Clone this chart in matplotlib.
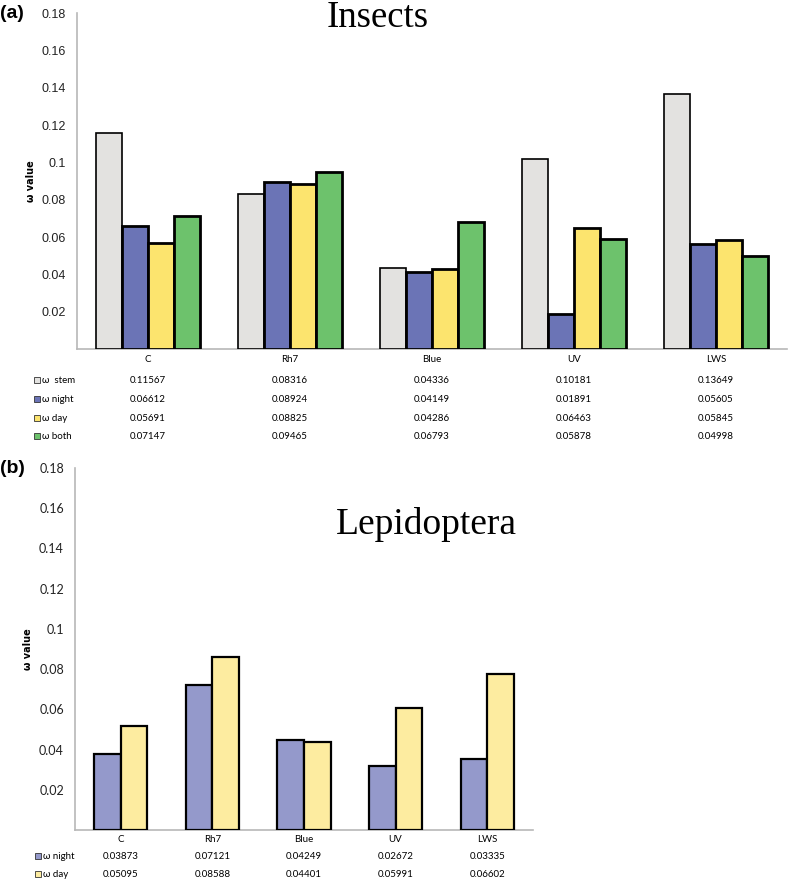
from matplotlib import pyplot as plt
from matplotlib.transforms import blended_transform_factory
from matplotlib.patches import Rectangle
import numpy as np

genes = ['C', 'Rh7', 'Blue', 'UV', 'LWS']

# panel (a) - insects
insStem = [0.11567, 0.08316, 0.04336, 0.10181, 0.13649]
insNight = [0.06612, 0.08924, 0.04149, 0.01891, 0.05605]
insDay = [0.05691, 0.08825, 0.04286, 0.06463, 0.05845]
insBoth = [0.07147, 0.09465, 0.06793, 0.05878, 0.04998]
insNames = ['ω  stem', 'ω night', 'ω day', 'ω both']

# panel (b) - lepidoptera, bar heights
lepNight = [0.038, 0.072, 0.045, 0.032, 0.0353]
lepDay = [0.0515, 0.086, 0.044, 0.0605, 0.0776]
# numbers printed in the table under the bars
lepNightTxt = ['0.03873', '0.07121', '0.04249', '0.02672', '0.03335']
lepDayTxt = ['0.05095', '0.08588', '0.04401', '0.05991', '0.06602']
lepNames = ['ω night', 'ω day']

yTicks = [0.02, 0.04, 0.06, 0.08, 0.1, 0.12, 0.14, 0.16, 0.18]
yTickLabels = ['0.02', '0.04', '0.06', '0.08', '0.1', '0.12', '0.14', '0.16', '0.18']

W, H = 798, 880
fig = plt.figure(figsize=(W/100, H/100), dpi=100)

def axRect(left, top, right, bottom):
    return [left/W, 1-bottom/H, (right-left)/W, (bottom-top)/H]

def fy(py):
    return 1 - py/H

def styleAx(ax, tickFont, tickSize):
    for s in ['top', 'right']:
        ax.spines[s].set_visible(False)
    for s in ['left', 'bottom']:
        ax.spines[s].set_color('#b8b8b8')
        ax.spines[s].set_linewidth(1.2)
    ax.set_xlim(0, 5)
    ax.set_ylim(0, 0.18)
    ax.set_yticks(yTicks)
    ax.set_yticklabels(yTickLabels, fontsize=tickSize, family=tickFont, color='#222222')
    ax.set_xticks([])
    ax.tick_params(axis='y', length=0, pad=8)
    ax.set_ylabel('ω value', fontsize=7, fontweight='bold', family='DejaVu Sans', labelpad=4)

tblSize = 7

# ---- panel a
axA = fig.add_axes(axRect(77, 13, 787, 349))
styleAx(axA, 'Liberation Sans', 9)
x = np.arange(5) + 0.5
bw = 0.183
colsA = ['#e3e2e0', '#6b74b6', '#fce46e', '#6dc26c']
seriesA = [insStem, insNight, insDay, insBoth]
for i, vals in enumerate(seriesA):
    lw = 1.2 if i == 0 else 2.0
    axA.bar(x + (i-1.5)*bw, vals, bw, color=colsA[i], edgecolor='black', linewidth=lw, zorder=3)

trA = blended_transform_factory(axA.transData, fig.transFigure)
for j, g in enumerate(genes):
    axA.text(x[j], fy(359), g, transform=trA, ha='center', va='center', fontsize=tblSize, family='Lato')
rowY = [380, 399, 418, 436]
for i, vals in enumerate(seriesA):
    fig.patches.append(Rectangle((34/W, fy(rowY[i]+3)), 6/W, 6/H, transform=fig.transFigure,
                                 facecolor=colsA[i], edgecolor='#333333', linewidth=0.6))
    fig.text(42/W, fy(rowY[i]), insNames[i], ha='left', va='center', fontsize=tblSize, family='Lato')
    for j in range(5):
        axA.text(x[j], fy(rowY[i]), '%.5f' % vals[j], transform=trA, ha='center', va='center',
                 fontsize=tblSize, family='Lato')

fig.text(378/W, fy(18), 'Insects', ha='center', va='center', fontsize=26.5, family='Liberation Serif')
fig.text(0, fy(14), '(a)', ha='left', va='center', fontsize=14, fontweight='bold', family='Liberation Sans')

# ---- panel b
axB = fig.add_axes(axRect(75, 468, 533, 830))
styleAx(axB, 'Lato', 9)
bwB = 0.29
colsB = ['#9499cb', '#fdeca0']
seriesB = [lepNight, lepDay]
for i, vals in enumerate(seriesB):
    axB.bar(x + (i-0.5)*bwB, vals, bwB, color=colsB[i], edgecolor='black', linewidth=1.6, zorder=3)

trB = blended_transform_factory(axB.transData, fig.transFigure)
for j, g in enumerate(genes):
    axB.text(x[j], fy(839), g, transform=trB, ha='center', va='center', fontsize=tblSize, family='Lato')
rowYB = [856, 874]
txtB = [lepNightTxt, lepDayTxt]
for i in range(2):
    fig.patches.append(Rectangle((35/W, fy(rowYB[i]+3)), 6/W, 6/H, transform=fig.transFigure,
                                 facecolor=colsB[i], edgecolor='#333333', linewidth=0.6))
    fig.text(43/W, fy(rowYB[i]), lepNames[i], ha='left', va='center', fontsize=tblSize, family='Lato')
    for j in range(5):
        axB.text(x[j], fy(rowYB[i]), txtB[i][j], transform=trB, ha='center', va='center',
                 fontsize=tblSize, family='Lato')

fig.text(426/W, fy(524), 'Lepidoptera', ha='center', va='center', fontsize=27, family='Liberation Serif')
fig.text(0, fy(468), '(b)', ha='left', va='center', fontsize=14, fontweight='bold', family='Liberation Sans')

fig.savefig('out.png', dpi=100)
